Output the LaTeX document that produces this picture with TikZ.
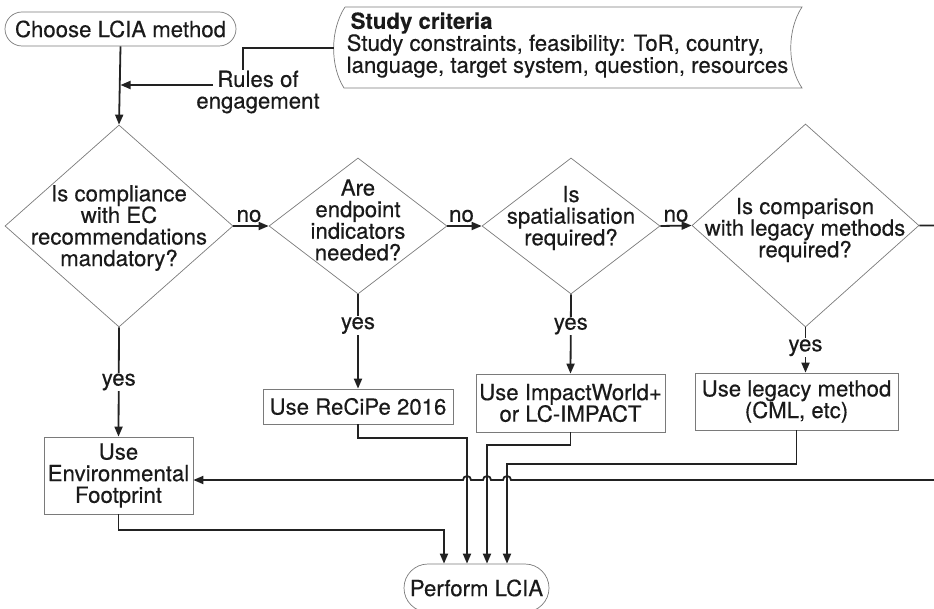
\documentclass[tikz,border=0pt]{standalone}
\usepackage{fontspec}
\setmainfont{TeX Gyre Heros}[FakeBold=0.35]
\usetikzlibrary{shapes.geometric,arrows.meta,calc}
\definecolor{linec}{HTML}{222222}
\definecolor{bordc}{HTML}{7A7A7A}
\definecolor{txtc}{HTML}{1A1A1A}
\begin{document}
\begin{tikzpicture}[x=1pt,y=-1pt,
  every node/.style={font=\fontsize{22.2}{21.6}\selectfont, text=txtc, inner sep=1.5pt},
  conn/.style={draw=linec, line width=1.8pt},
  arr/.style={conn, -{Triangle[length=10pt,width=8pt]}},
  dia/.style={draw=bordc, line width=0.7pt, diamond, inner sep=0pt},
  qtxt/.style={align=center},
  box/.style={draw=bordc, line width=0.7pt, rectangle, inner sep=0pt, align=center},
  term/.style={draw=bordc, line width=0.7pt, rectangle, rounded corners=17pt, inner sep=0pt},
  lbl/.style={fill=white, inner sep=1pt}]
\useasboundingbox (0,0) rectangle (934,609);
\begin{scope}
\clip (0,0) rectangle (934,609);

% terminals
\node[term, minimum width=231pt, minimum height=34pt] (choose) at (120.5,29) {Choose LCIA method};
\node[term, rounded corners=24pt, minimum width=145pt, minimum height=48pt] (perf) at (476.5,588) {Perform LCIA};

% study criteria
\draw[draw=bordc, line width=0.7pt] (345,7) -- (802,7) .. controls (787,30) and (787,66) .. (802,88) -- (344,88) .. controls (330,66) and (330,30) .. (345,7);
\node[anchor=west, align=left, font=\fontsize{22.2}{22}\selectfont] (studytxt) at (345,45) {\hspace*{4pt}\textbf{Study criteria}\\Study constraints, feasibility: ToR, country,\\language, target system, question, resources};
\coordinate (study) at (334,48);
\coordinate (rend) at (243,70);
\node[align=center] (rules) at (258,92) {Rules of\\engagement};
\coordinate (rstart) at (213,85);
\draw[conn] (study) -| (rend);
\draw[arr] (rstart) -- (rstart -| choose.south);

% decisions
\node[dia, minimum width=228pt, minimum height=202pt] (d1) at (119,226) {};
\node[dia, minimum width=178pt, minimum height=136pt] (d2) at (358,226) {};
\node[dia, minimum width=178pt, minimum height=136pt] (d3) at (571,226) {};
\node[dia, minimum width=227pt, minimum height=203pt] (d4) at (805.5,225.5) {};
\node[qtxt] (d1t) at (119,228) {Is compliance\\with EC\\recommendations\\mandatory?};
\node[qtxt] (d2t) at (358,220) {Are\\endpoint\\indicators\\needed?};
\node[qtxt] (d3t) at (571,218) {Is\\spatialisation\\required?};
\node[qtxt] (d4t) at (805,230) {Is comparison\\with legacy methods\\required?};

\draw[arr] (choose.south) -- (d1.north);
\draw[arr] (d1.east) -- node[above, inner sep=3pt, xshift=-2pt] (no1) {no} (d2.west);
\draw[arr] (d2.east) -- node[above, inner sep=3pt, xshift=-3pt] (no2) {no} (d3.west);
\draw[arr] (d3.east) -- node[above, inner sep=3pt] (no3) {no} (d4.west);

% method boxes
\node[box, minimum width=149pt, minimum height=77pt] (ef) at (118.5,475.5) {Use\\Environmental\\Footprint};
\node[box, minimum width=190pt, minimum height=35pt] (rec) at (358,406.5) {Use ReCiPe 2016};
\node[box, minimum width=189pt, minimum height=58pt] (iw) at (570.5,403) {Use ImpactWorld+\\or LC-IMPACT};
\node[box, minimum width=203pt, minimum height=57pt] (leg) at (796.5,401.5) {Use legacy method\\(CML, etc)};

\draw[arr] (d1.south) -- node[lbl] (y1) {yes} (ef.north);
\draw[arr] (d2.south) -- node[lbl, pos=0.33] (y2) {yes} (rec.north);
\draw[arr] (d3.south) -- node[lbl, pos=0.4] (y3) {yes} (iw.north);
\draw[arr] (d4.south) -- node[lbl, pos=0.45] (y4) {yes} (d4.south |- leg.north);

% to perform
\draw[arr] (ef.south) -- ++(0,16) -| ($(perf.north)+(-32.5,0)$);
\draw[arr] (rec.south) -- ++(0,14) -| ($(perf.north)+(-9.5,0)$);
\draw[arr] (iw.south) -- ++(0,13) -| ($(perf.north)+(10.5,0)$);
\draw[arr] (leg.south) -- ++(0,34) -| ($(perf.north)+(30.5,0)$);

% return path
\draw[arr] (d4.east) -- (950,225.5) -- (950,480) -- (511,480)
  arc[start angle=0, end angle=180, radius=4pt] -- (491,480)
  arc[start angle=0, end angle=180, radius=4pt] -- (471,480)
  arc[start angle=0, end angle=180, radius=4pt] -- (ef.east |- 0,480);
\end{scope}
\end{tikzpicture}
\end{document}
